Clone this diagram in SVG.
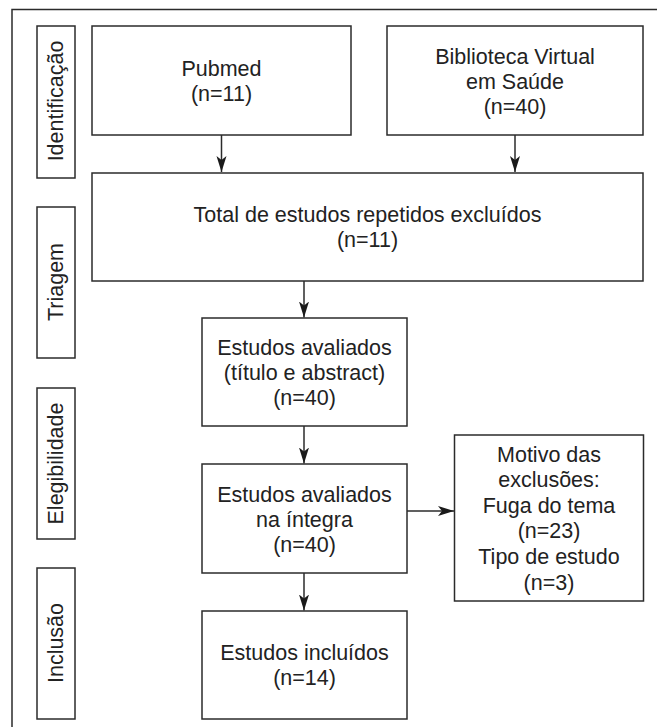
<svg xmlns="http://www.w3.org/2000/svg" width="657" height="727" viewBox="0 0 657 727">
<defs>
<style>
.box{fill:#fff;stroke:#2b2b2b;stroke-width:1.5}
.t{font-family:"Liberation Sans",Arial,Helvetica,sans-serif;font-size:21.5px;fill:#222;text-anchor:middle}
.c{fill:none;stroke:#2b2b2b;stroke-width:1.5}
</style>
<marker id="ah" markerUnits="userSpaceOnUse" markerWidth="17" markerHeight="11" refX="16" refY="5" orient="auto" viewBox="0 0 17 11">
<path d="M0,0 L16,5 L0,10 L4,5 Z" fill="#1a1a1a"/>
</marker>
</defs>
<rect width="657" height="727" fill="#fff"/>
<path class="c" d="M12,727 V9.5 H657"/>

<g id="lbl-identificacao">
<rect class="box" x="37" y="26" width="38" height="152"/>
<text class="t" transform="translate(63,101) rotate(-90)">Identificação</text>
</g>
<g id="lbl-triagem">
<rect class="box" x="37" y="207" width="38" height="151"/>
<text class="t" transform="translate(63,282) rotate(-90)">Triagem</text>
</g>
<g id="lbl-elegibilidade">
<rect class="box" x="37" y="388" width="38" height="151"/>
<text class="t" transform="translate(63,463.5) rotate(-90)">Elegibilidade</text>
</g>
<g id="lbl-inclusao">
<rect class="box" x="37" y="568" width="38" height="151"/>
<text class="t" transform="translate(63,643) rotate(-90)">Inclusão</text>
</g>

<g id="pubmed">
<rect class="box" x="92" y="26" width="259" height="109"/>
<text class="t" x="221.5" y="76">Pubmed</text>
<text class="t" x="221.5" y="101">(n=11)</text>
</g>
<g id="bvs">
<rect class="box" x="387" y="26" width="256" height="109"/>
<text class="t" x="515" y="63.5">Biblioteca Virtual</text>
<text class="t" x="515" y="88.5">em Saúde</text>
<text class="t" x="515" y="113.5">(n=40)</text>
</g>
<g id="total">
<rect class="box" x="92" y="173" width="551" height="108"/>
<text class="t" x="367.5" y="221.5">Total de estudos repetidos excluídos</text>
<text class="t" x="367.5" y="246.5">(n=11)</text>
</g>
<g id="avaliados">
<rect class="box" x="202" y="318" width="205" height="108"/>
<text class="t" x="304.5" y="354.5">Estudos avaliados</text>
<text class="t" x="304.5" y="379.5">(título e abstract)</text>
<text class="t" x="304.5" y="404.5">(n=40)</text>
</g>
<g id="integra">
<rect class="box" x="202" y="464" width="205" height="109"/>
<text class="t" x="304.5" y="501.5">Estudos avaliados</text>
<text class="t" x="304.5" y="526.5">na íntegra</text>
<text class="t" x="304.5" y="551.5">(n=40)</text>
</g>
<g id="exclusoes">
<rect class="box" x="454.5" y="435" width="189" height="166"/>
<text class="t" x="549" y="461.5">Motivo das</text>
<text class="t" x="549" y="487">exclusões:</text>
<text class="t" x="549" y="512.5">Fuga do tema</text>
<text class="t" x="549" y="538">(n=23)</text>
<text class="t" x="549" y="564">Tipo de estudo</text>
<text class="t" x="549" y="589.5">(n=3)</text>
</g>
<g id="incluidos">
<rect class="box" x="202" y="611" width="205" height="108"/>
<text class="t" x="304.5" y="660">Estudos incluídos</text>
<text class="t" x="304.5" y="685">(n=14)</text>
</g>

<g id="connectors">
<line class="c" x1="221.5" y1="135" x2="221.5" y2="172" marker-end="url(#ah)"/>
<line class="c" x1="515" y1="135" x2="515" y2="172" marker-end="url(#ah)"/>
<line class="c" x1="304" y1="281" x2="304" y2="317.5" marker-end="url(#ah)"/>
<line class="c" x1="304" y1="426" x2="304" y2="463.5" marker-end="url(#ah)"/>
<line class="c" x1="407" y1="511" x2="454" y2="511" marker-end="url(#ah)"/>
<line class="c" x1="304" y1="573" x2="304" y2="610.5" marker-end="url(#ah)"/>
</g>
</svg>
